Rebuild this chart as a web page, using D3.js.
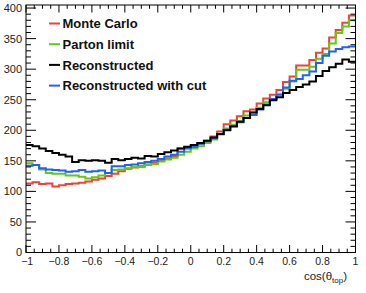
<!DOCTYPE html>
<html>
<head>
<meta charset="utf-8">
<script src="https://cdn.jsdelivr.net/npm/d3@7"></script>
<style>
  html, body { margin: 0; padding: 0; background: #fff; }
  svg { display: block; font-family: "Liberation Sans", Arial, sans-serif; }
</style>
</head>
<body>
<svg id="chart" width="366" height="293"></svg>
<script>
// 50 bins of cos(theta_top) from -1 to 1
const binEdges = d3.range(51).map(i => -1 + i * 0.04);

const monteCarlo = [113, 115, 112, 113, 108, 110, 112, 113, 114, 116, 119, 121, 125, 129, 133, 137, 139, 141, 144, 147, 150, 154, 158, 170, 171,
  172, 178, 183, 190, 198, 210, 216, 223, 231, 234, 244, 252, 258, 266, 279, 288, 306, 306, 315, 327, 334, 352, 364, 376, 388];
const partonLimit = [146, 143, 136, 130, 129, 129, 126, 126, 124, 121, 123, 126, 130, 135, 136, 138, 140, 140, 143, 145, 149, 152, 155, 160, 165,
  170, 174, 179, 185, 193, 203, 209, 215, 224, 229, 237, 246, 251, 259, 268, 280, 299, 299, 304, 317, 325, 342, 359, 370, 380];
const reconstructed = [176, 174, 170, 166, 163, 160, 157, 148, 151, 150, 151, 150, 147, 153, 151, 153, 155, 154, 158, 157, 161, 164, 167, 170, 173,
  176, 179, 183, 188, 194, 200, 206, 214, 220, 229, 235, 241, 249, 254, 261, 266, 271, 275, 280, 289, 297, 303, 309, 316, 312];
const recoWithCut = [142, 143, 138, 136, 135, 134, 132, 133, 135, 132, 133, 134, 130, 141, 141, 143, 144, 146, 148, 150, 153, 157, 160, 165, 170,
  173, 178, 182, 187, 194, 201, 207, 213, 220, 225, 234, 242, 251, 258, 270, 281, 284, 290, 296, 310, 322, 329, 333, 336, 337];

const seriesNames = ['Monte Carlo', 'Parton limit', 'Reconstructed', 'Reconstructed with cut'];
const seriesColors = ['#f04236', '#62c912', '#000000', '#2060ff'];
const seriesValues = [monteCarlo, partonLimit, reconstructed, recoWithCut];
const drawOrder = [0, 1, 3, 2];

const xTicks = [-1, -0.8, -0.6, -0.4, -0.2, 0, 0.2, 0.4, 0.6, 0.8, 1];
const yTicks = [0, 50, 100, 150, 200, 250, 300, 350, 400];

const svg = d3.select('#chart');
const m = { l: 26, r: 355.5, t: 5, b: 252.5 };
const x = d3.scaleLinear().domain([-1, 1]).range([m.l, m.r]);
const y = d3.scaleLinear().domain([0, 405]).range([m.b, m.t]);

// ---------- histograms ----------
const clip = svg.append('defs').append('clipPath').attr('id', 'frame-clip');
clip.append('rect').attr('x', m.l).attr('y', m.t).attr('width', m.r - m.l).attr('height', m.b - m.t);

const line = d3.line().x(d => x(d[0])).y(d => y(d[1])).curve(d3.curveStepAfter);
const g = svg.append('g').attr('clip-path', 'url(#frame-clip)');
drawOrder.forEach(k => {
  const vals = seriesValues[k];
  const pts = vals.map((v, i) => [binEdges[i], v]);
  pts.push([binEdges[vals.length], vals[vals.length - 1]]);
  g.append('path').datum(pts).attr('d', line).attr('fill', 'none')
    .attr('stroke', seriesColors[k]).attr('stroke-width', 2).attr('stroke-linejoin', 'miter');
});

// ---------- frame & ticks ----------
svg.append('rect').attr('x', m.l).attr('y', m.t).attr('width', m.r - m.l).attr('height', m.b - m.t)
  .attr('fill', 'none').attr('stroke', '#000').attr('stroke-width', 1);

const tk = svg.append('g').attr('stroke', '#000').attr('stroke-width', 1);
d3.range(0, 401, 10).forEach(v => {
  const len = v % 50 === 0 ? 10 : 5;
  tk.append('line').attr('x1', m.l).attr('x2', m.l + len).attr('y1', y(v)).attr('y2', y(v));
  tk.append('line').attr('x1', m.r).attr('x2', m.r - len).attr('y1', y(v)).attr('y2', y(v));
});
d3.range(0, 41).forEach(i => {
  const v = -1 + i * 0.05;
  const len = i % 4 === 0 ? 7.5 : 3.8;
  tk.append('line').attr('x1', x(v)).attr('x2', x(v)).attr('y1', m.b).attr('y2', m.b - len);
  tk.append('line').attr('x1', x(v)).attr('x2', x(v)).attr('y1', m.t).attr('y2', m.t + len);
});

// tick labels
svg.selectAll('text.yl').data(yTicks).join('text').attr('class', 'yl')
  .attr('x', 22).attr('y', d => y(d)).attr('dy', '0.36em').attr('text-anchor', 'end')
  .attr('font-size', 11).attr('fill', '#222').text(d => d);
// the first label is nudged right a hair so it clears the "0" of the y axis
svg.selectAll('text.xl').data(xTicks).join('text').attr('class', 'xl')
  .attr('x', d => x(d) + (d === -1 ? 1.2 : 0)).attr('y', 261.5).attr('dy', '0.36em').attr('text-anchor', 'middle')
  .attr('font-size', 10.5).attr('fill', '#222').text(d => d3.format('')(d));

// axis title
const title = svg.append('text').attr('x', 347).attr('y', 280).attr('text-anchor', 'end')
  .attr('font-size', 11.5).attr('fill', '#222');
title.append('tspan').text('cos(θ');
title.append('tspan').attr('font-size', 8).attr('dy', 3).text('top');
title.append('tspan').attr('dy', -3).text(')');

// ---------- legend ----------
const lg = svg.append('g');
seriesNames.forEach((name, i) => {
  const cy = 23.5 + i * 20.7;
  lg.append('line').attr('x1', 49).attr('x2', 60).attr('y1', cy).attr('y2', cy)
    .attr('stroke', seriesColors[i]).attr('stroke-width', 2);
  lg.append('text').attr('x', 62.5).attr('y', cy).attr('dy', '0.36em')
    .attr('font-size', 13).attr('font-weight', 'bold').attr('fill', '#111').text(name);
});
</script>
</body>
</html>
